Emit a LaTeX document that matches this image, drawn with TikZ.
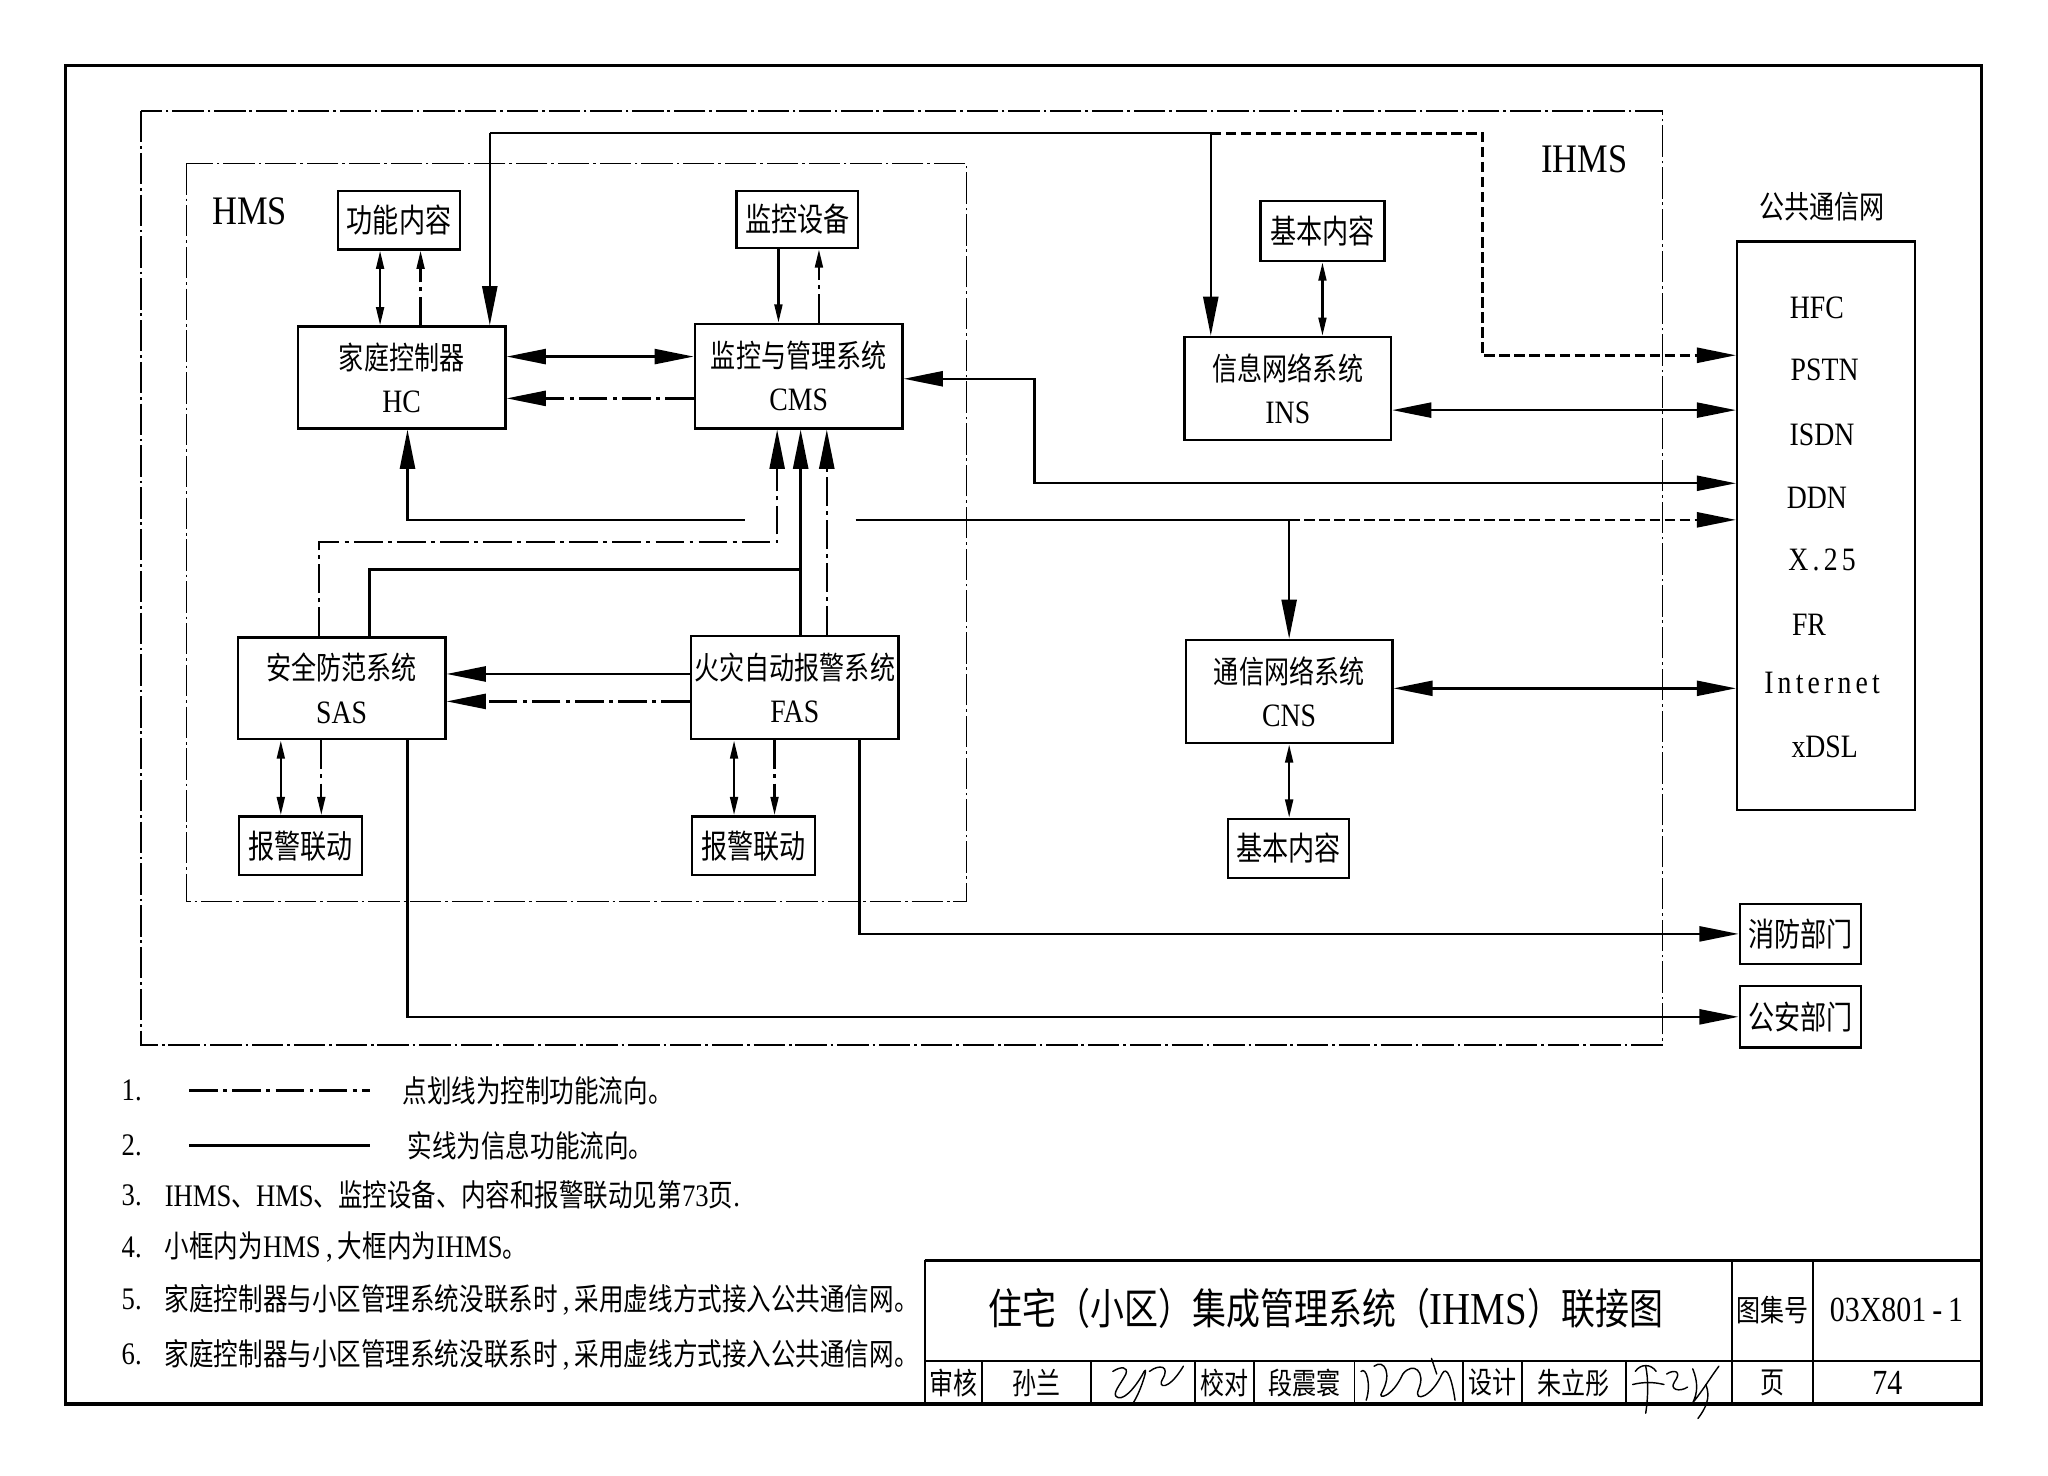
\documentclass[tikz,border=0pt]{standalone}
\usepackage{fontspec}
\usepackage{graphicx}
\setmainfont{Liberation Serif}[FakeStretch=0.85]
\newfontfamily\cjk{Noto Sans CJK SC}[FakeStretch=0.8]
\usetikzlibrary{arrows.meta}
\newcommand\zb[1]{{\cjk\fontsize{24}{33}\selectfont #1}}
\newcommand\zs[1]{{\cjk\fontsize{25}{33}\selectfont #1}}
\newcommand\zl[1]{{\cjk\fontsize{23.5}{30}\selectfont #1}}
\newcommand\zt[1]{{\cjk\fontsize{32.5}{36}\selectfont #1}}
\newcommand\zk[1]{{\cjk\fontsize{23}{28}\selectfont #1}}
\newcommand\ks{\kern3.2pt}
\tikzset{
  conn/.style={line width=1.8pt},
  dd/.style={line width=1.8pt, dash pattern=on 22pt off 4pt on 3pt off 4pt},
  dsh/.style={line width=2pt, dash pattern=on 8pt off 3.5pt},
  frm/.style={line width=1pt, dash pattern=on 24pt off 3pt on 2pt off 3pt},
  box/.style={draw, line width=1.8pt, inner sep=0pt, align=center, font=\fontsize{25}{33}\selectfont},
  txt/.style={inner sep=0pt, align=center, font=\fontsize{25}{33}\selectfont},
  lgd/.style={inner sep=0pt, anchor=west, font=\fontsize{24}{30}\selectfont},
  arrbig/.style={arrows={-Triangle[length=30pt,width=11.5pt]}},
  arrbi/.style={arrows={Triangle[length=30pt,width=11.5pt]-Triangle[length=30pt,width=11.5pt]}},
  arrsm/.style={arrows={-Triangle[length=14pt,width=6pt]}},
  arrsmbi/.style={arrows={Triangle[length=14pt,width=6pt]-Triangle[length=14pt,width=6pt]}},
  sig/.style={line width=1.1pt, line cap=round, line join=round},
}
\begin{document}
\begin{tikzpicture}[x=1pt,y=-1pt]
\useasboundingbox (0,0) rectangle (1568,1130);
\fill[white] (0,0) rectangle (1568,1130);

% outer frame
\draw[line width=2.5pt] (50,50) rectangle (1517,1075);

% container boxes
\draw[frm] (108,85) rectangle (1273,800);
\draw[frm] (143,125) rectangle (740,690);
\node[txt, font=\fontsize{31}{36}\selectfont] (hmslbl) at (191,162) {HMS};
\node[txt, font=\fontsize{31}{36}\selectfont] (ihmslbl) at (1213,122) {IHMS};

% nodes
\node[box, minimum width=93pt, minimum height=45pt] (gnnr) at (305.5,168.5) {\zs{功能内容}};
\node[box, minimum width=93pt, minimum height=44pt] (jksb) at (610.5,168) {\zs{监控设备}};
\node[box, minimum width=159pt, minimum height=78pt] (hc) at (307.5,289) {\zb{家庭控制器}\\HC};
\node[box, minimum width=159pt, minimum height=80pt] (cms) at (611.5,288) {\zb{监控与管理系统}\\CMS};
\node[box, minimum width=95pt, minimum height=46pt] (jbnr1) at (1012.5,177) {\zs{基本内容}};
\node[box, minimum width=158pt, minimum height=79pt] (ins) at (986,297.5) {\zb{信息网络系统}\\INS};
\node[draw, line width=1.8pt, inner sep=0pt, minimum width=136pt, minimum height=435pt] (pub) at (1398,402.5) {};
\node[txt] (publbl) at (1395,158) {\zb{公共通信网}};
\node[txt] (p1) at (1391,236) {HFC};
\node[txt] (p2) at (1397,283) {PSTN};
\node[txt] (p3) at (1395,333) {ISDN};
\node[txt] (p4) at (1391,381) {DDN};
\node[txt] (p5) at (1395,429) {X\ks.\ks2\ks5};
\node[txt] (p6) at (1385,478) {FR};
\node[txt] (p7) at (1395,523) {I\ks n\ks t\ks e\ks r\ks n\ks e\ks t};
\node[txt] (p8) at (1397,572) {xDSL};
\node[box, minimum width=159pt, minimum height=78pt] (sas) at (261.5,527) {\zb{安全防范系统}\\SAS};
\node[box, minimum width=159pt, minimum height=79pt] (fas) at (608.5,526.5) {\zb{火灾自动报警系统}\\FAS};
\node[box, minimum width=94pt, minimum height=45pt] (bj1) at (230,647.5) {\zs{报警联动}};
\node[box, minimum width=94pt, minimum height=45pt] (bj2) at (577,647.5) {\zs{报警联动}};
\node[box, minimum width=158pt, minimum height=79pt] (cns) at (987,529.5) {\zb{通信网络系统}\\CNS};
\node[box, minimum width=93pt, minimum height=45pt] (jbnr2) at (986.5,649.5) {\zs{基本内容}};
\node[box, minimum width=93pt, minimum height=46pt] (xf) at (1378.5,715) {\zs{消防部门}};
\node[box, minimum width=93pt, minimum height=47pt] (ga) at (1378.5,778.5) {\zs{公安部门}};

% helper levels
\coordinate (y273) at (0,273);
\coordinate (y305) at (0,305);
\coordinate (y314) at (0,314);
\coordinate (y516) at (0,516);
\coordinate (y537) at (0,537);
\coordinate (y527) at (0,527);

% top line
\coordinate (t1) at (375,102);
\coordinate (t2) at (927,102);
\coordinate (t3) at (1135,102);
\coordinate (t4) at (1135,272);
\draw[conn] (t1) -- (t2);
\draw[conn, arrbig] (t1) -- (t1 |- hc.north);
\draw[conn, arrbig] (t2) -- (t2 |- ins.north);
\draw[dsh, arrbig] (t2) -- (t3) -- (t4) -- (t4 -| pub.west);

% 功能内容 <-> HC
\draw[conn, arrsmbi] ([xshift=-14.5pt]gnnr.south) -- ([xshift=-14.5pt]gnnr.south |- hc.north);
\draw[dd, arrsm] ([xshift=16.5pt]gnnr.south |- hc.north) -- ([xshift=16.5pt]gnnr.south);

% 监控设备 <-> CMS
\draw[conn, arrsm] ([xshift=-14.5pt]jksb.south) -- ([xshift=-14.5pt]jksb.south |- cms.north);
\draw[dd, arrsm] ([xshift=16.5pt]jksb.south |- cms.north) -- ([xshift=16.5pt]jksb.south);

% HC <-> CMS
\draw[conn, arrbi] (hc.east |- y273) -- (cms.west |- y273);
\draw[dd, arrbig] (cms.west |- y305) -- (hc.east |- y305);

% CMS <-> public net (DDN)
\coordinate (c1) at (792,290);
\coordinate (c2) at (792,370);
\draw[conn, arrbi] (cms.east |- c1) -- (c1) -- (c2) -- (c2 -| pub.west);

% INS <-> public net
\draw[conn, arrbi] (ins.east |- y314) -- (pub.west |- y314);
\draw[conn, arrsmbi] (jbnr1.south) -- (jbnr1.south |- ins.north);

% line to HC bottom
\coordinate (h1) at (570,398);
\coordinate (h2) at (312,398);
\draw[conn, arrbig] (h1) -- (h2) -- (h2 |- hc.south);

% line to CNS and public net
\coordinate (r1) at (655,398);
\coordinate (r2) at (987,398);
\draw[conn] (r1) -- (r2);
\draw[conn, arrbig] (r2) -- (r2 |- cns.north);
\draw[dsh, arrbig] (r2) -- (r2 -| pub.west);

% SAS -> CMS (control)
\coordinate (s1) at (244,415);
\coordinate (s2) at (595,415);
\draw[dd, arrbig] (s1 |- sas.north) -- (s1) -- (s2) -- (s2 |- cms.south);
% SAS -> CMS (info), joining FAS line
\coordinate (s3) at (283,436);
\coordinate (s4) at (613,436);
\draw[conn] (s3 |- sas.north) -- (s3) -- (s4);
\draw[conn, arrbig] (s4 |- fas.north) -- (s4 |- cms.south);
% FAS -> CMS (control)
\coordinate (s5) at (633,450);
\draw[dd, arrbig] (s5 |- fas.north) -- (s5 |- cms.south);

% FAS -> SAS
\draw[conn, arrbig] (fas.west |- y516) -- (sas.east |- y516);
\draw[dd, arrbig] (fas.west |- y537) -- (sas.east |- y537);

% SAS <-> 报警联动
\coordinate (b1) at (215,600);
\coordinate (b2) at (246,600);
\draw[conn, arrsmbi] (b1 |- sas.south) -- (b1 |- bj1.north);
\draw[dd, arrsm] (b2 |- sas.south) -- (b2 |- bj1.north);
% FAS <-> 报警联动
\coordinate (b3) at (562,600);
\coordinate (b4) at (593,600);
\draw[conn, arrsmbi] (b3 |- fas.south) -- (b3 |- bj2.north);
\draw[dd, arrsm] (b4 |- fas.south) -- (b4 |- bj2.north);

% FAS -> 消防部门, SAS -> 公安部门
\coordinate (f1) at (658,715);
\draw[conn, arrbig] (f1 |- fas.south) -- (f1) -- (xf.west);
\coordinate (g1) at (312,778.5);
\draw[conn, arrbig] (g1 |- sas.south) -- (g1) -- (ga.west);

% CNS <-> public net
\draw[conn, arrbi] (cns.east |- y527) -- (pub.west |- y527);
\draw[conn, arrsmbi] (cns.south) -- (cns.south |- jbnr2.north);

% legend
\node[lgd] (n1) at (93,835) {1.};
\coordinate (l1a) at (145,835);
\coordinate (l1b) at (283,835);
\draw[dd, line width=2.2pt] (l1a) -- (l1b);
\node[lgd] (n1t) at (308,835) {\zl{点划线为控制功能流向。}};
\node[lgd] (n2) at (93,877) {2.};
\coordinate (l2a) at (145,877);
\coordinate (l2b) at (283,877);
\draw[conn, line width=2.2pt] (l2a) -- (l2b);
\node[lgd] (n2t) at (312,877) {\zl{实线为信息功能流向。}};
\node[lgd] (n3) at (93,915) {3.};
\node[lgd] (n3t) at (126,915) {IHMS\zl{、}HMS\zl{、监控设备、内容和报警联动见第}73\zl{页}.};
\node[lgd] (n4) at (93,955) {4.};
\node[lgd] (n4t) at (126,955) {\zl{小框内为}HMS\,,\,\zl{大框内为}IHMS\zl{。}};
\node[lgd] (n5) at (93,995) {5.};
\node[lgd] (n5t) at (126,995) {\zl{家庭控制器与小区管理系统没联系时}\,,\,\zl{采用虚线方式接入公共通信网。}};
\node[lgd] (n6) at (93,1037) {6.};
\node[lgd] (n6t) at (126,1037) {\zl{家庭控制器与小区管理系统没联系时}\,,\,\zl{采用虚线方式接入公共通信网。}};

% title block
\draw[line width=2.2pt] (708,965) -- (1517,965);
\draw[line width=1.8pt] (708,965) -- (708,1075);
\draw[line width=2pt] (708,1042) -- (1517,1042);
\draw[line width=1.6pt] (1326,965) -- (1326,1075);
\draw[line width=1.6pt] (1388,965) -- (1388,1075);
\foreach \xx in {752,835,915,960,1037,1120,1165,1245}
  \draw[line width=1.4pt] (\xx,1042) -- (\xx,1075);
\node[txt] (title) at (1015,1002) {\zt{住宅（小区）集成管理系统（}{\fontsize{35}{40}\selectfont IHMS}\zt{）联接图}};
\node[txt] (tjh) at (1357,1003) {\zk{图集号}};
\node[txt, font=\fontsize{27}{30}\selectfont] (tjno) at (1452,1003) {03X801\,-\,1};
\node[txt] (sh) at (730,1058.5) {\zk{审核}};
\node[txt] (shn) at (793.5,1058.5) {\zk{孙兰}};
\node[txt] (jd) at (937.5,1058.5) {\zk{校对}};
\node[txt] (jdn) at (998.5,1058.5) {\zk{段震寰}};
\node[txt] (sj) at (1142.5,1058.5) {\zk{设计}};
\node[txt] (sjn) at (1205,1058.5) {\zk{朱立彤}};
\node[txt] (ye) at (1357,1058.5) {\zk{页}};
\node[txt, font=\fontsize{27}{30}\selectfont] (yeno) at (1445,1058.5) {74};

% signatures
\draw[sig] (852,1050) .. controls (858,1046) and (864,1046) .. (862,1052) .. controls (858,1060) and (850,1068) .. (856,1070) .. controls (862,1072) and (872,1058) .. (876,1050) .. controls (880,1044) and (872,1070) .. (866,1076);
\draw[sig] (880,1050) .. controls (888,1044) and (896,1046) .. (890,1056) .. controls (886,1062) and (894,1066) .. (906,1046);
\draw[sig] (1042,1050) .. controls (1046,1046) and (1050,1060) .. (1046,1072);
\draw[sig] (1052,1046) .. controls (1060,1040) and (1066,1052) .. (1058,1066) .. controls (1054,1072) and (1066,1070) .. (1074,1052);
\draw[sig] (1074,1052) .. controls (1082,1042) and (1092,1050) .. (1086,1064) .. controls (1082,1074) and (1096,1070) .. (1104,1052) .. controls (1108,1044) and (1112,1058) .. (1114,1072);
\draw[sig] (1096,1040) -- (1100,1052);
\draw[sig] (1252,1050) .. controls (1256,1044) and (1264,1044) .. (1268,1050);
\draw[sig] (1260,1046) .. controls (1262,1056) and (1262,1068) .. (1260,1082);
\draw[sig] (1250,1060) .. controls (1258,1058) and (1266,1058) .. (1274,1060);
\draw[sig] (1276,1052) .. controls (1282,1048) and (1288,1050) .. (1282,1058) .. controls (1278,1064) and (1286,1066) .. (1292,1062);
\draw[sig] (1296,1048) .. controls (1300,1058) and (1300,1066) .. (1296,1074) .. controls (1304,1064) and (1310,1054) .. (1316,1046);
\draw[sig] (1306,1060) .. controls (1310,1070) and (1306,1078) .. (1300,1086);
\end{tikzpicture}
\end{document}
